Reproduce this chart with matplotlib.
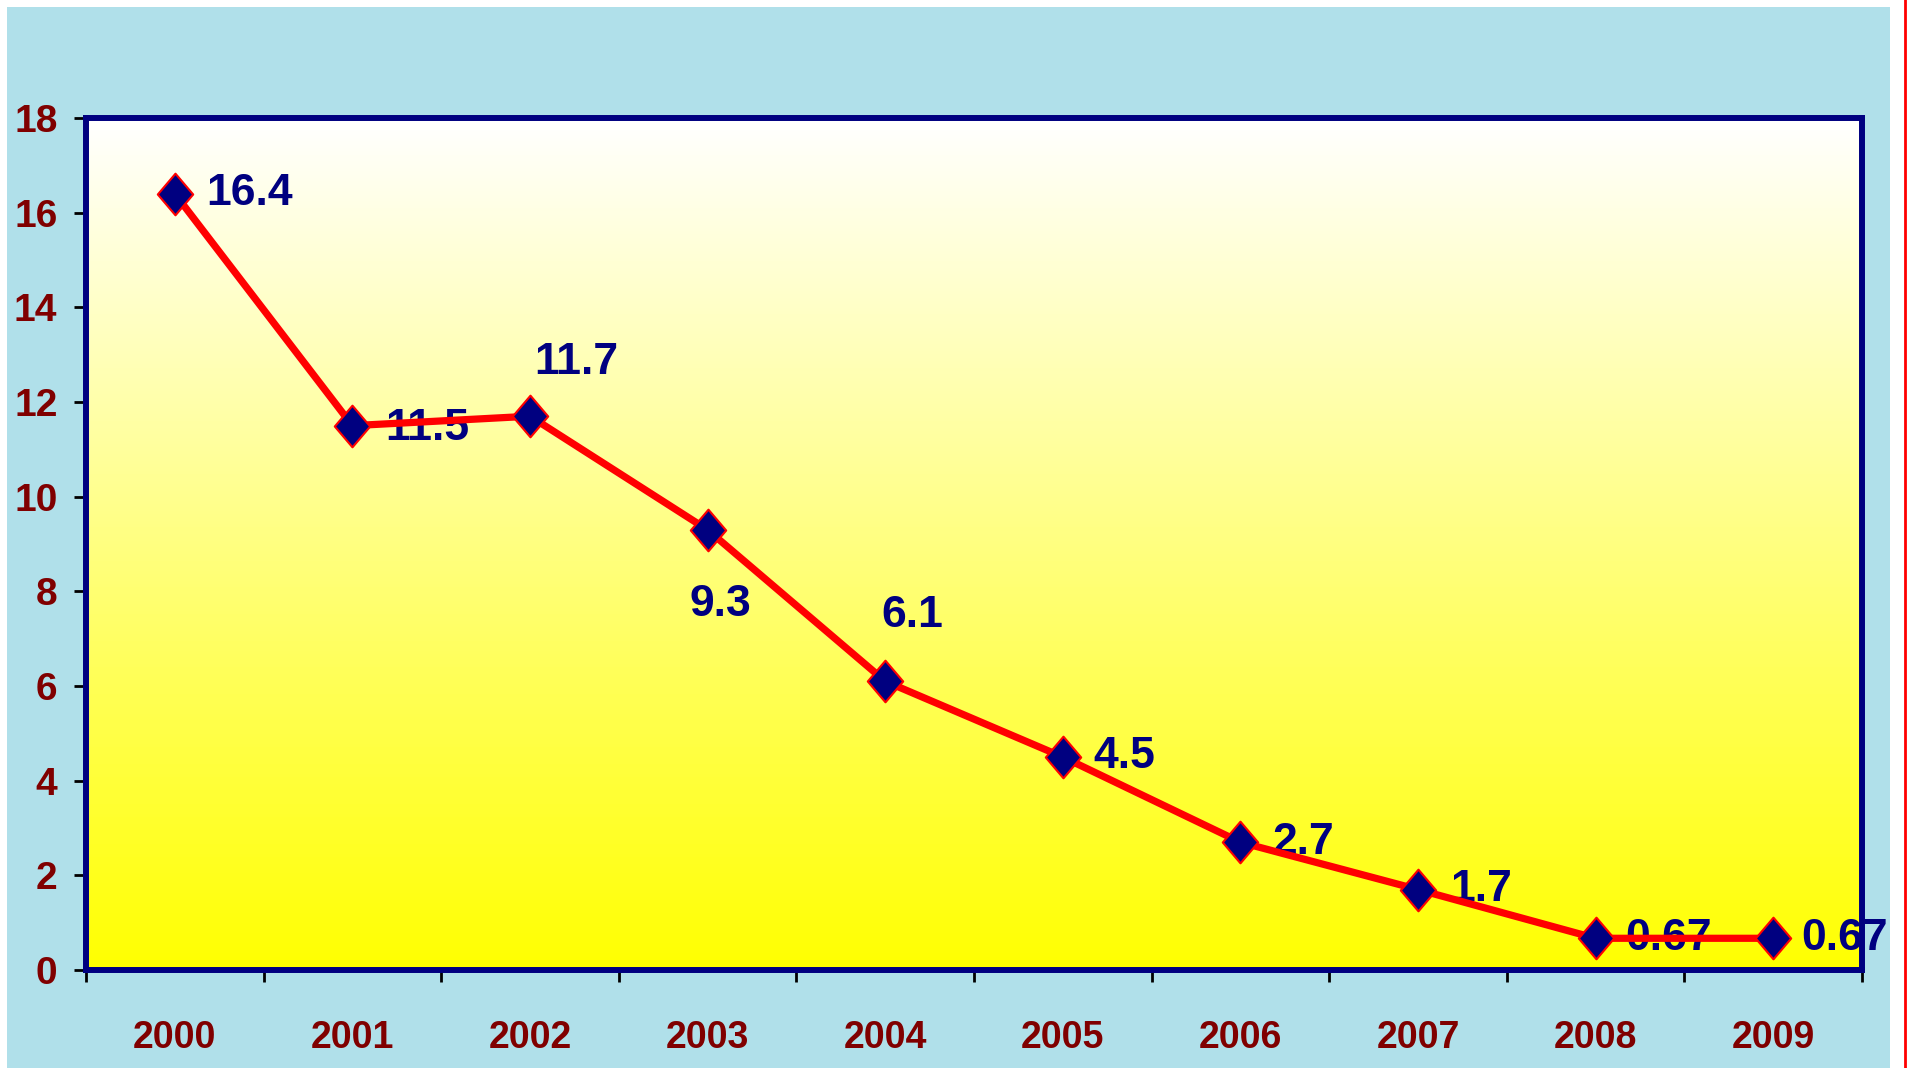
import numpy as np
import matplotlib.pyplot as plt
from matplotlib.patches import Rectangle
from matplotlib.lines import Line2D
from matplotlib.path import Path

plt.rcParams['font.family'] = ['Liberation Sans Narrow', 'Liberation Sans', 'DejaVu Sans']
plt.rcParams['font.weight'] = 'bold'

# 数据
years = ['2000', '2001', '2002', '2003', '2004', '2005', '2006', '2007', '2008', '2009']
values = [16.4, 11.5, 11.7, 9.3, 6.1, 4.5, 2.7, 1.7, 0.67, 0.67]
labels = ['16.4', '11.5', '11.7', '9.3', '6.1', '4.5', '2.7', '1.7', '0.67', '0.67']
y_ticks = [0, 2, 4, 6, 8, 10, 12, 14, 16, 18]

# 标签偏移 (points)
offsets = [(23, 0), (24, -2), (3, 39), (-13, -54), (-3, 47),
           (22, 0), (23, 0), (23, 0), (21, 0), (20, 0)]

fig = plt.figure(figsize=(19.11, 10.68), dpi=100)
fig.patch.set_facecolor('white')
fig.patches.append(Rectangle((7 / 1911, 0), 1883 / 1911, 1061 / 1068,
                             transform=fig.transFigure, facecolor='#b0e0ea',
                             edgecolor='none', zorder=-10))
fig.add_artist(Line2D([1905 / 1911, 1905 / 1911], [0, 1], color='red', lw=2))

ax = fig.add_axes([86 / 1911, 1 - 970 / 1068, 1776 / 1911, 852 / 1068])
ax.set_facecolor('none')

# 背景渐变 白->黄
grad = np.linspace(0, 1, 256).reshape(-1, 1)
rgb = np.ones((256, 1, 3))
rgb[:, 0, 2] = grad[:, 0]
ax.imshow(rgb, extent=[0, 1, 0, 1], transform=ax.transAxes, aspect='auto',
          origin='lower', zorder=0)

x = np.arange(len(years))
diamond = Path([(0, 1), (0.85, 0), (0, -1), (-0.85, 0), (0, 1)],
               [Path.MOVETO, Path.LINETO, Path.LINETO, Path.LINETO, Path.CLOSEPOLY])
ax.plot(x, values, color='red', lw=5.2, zorder=3, clip_on=False)
ax.plot(x, values, linestyle='none', marker=diamond, markersize=30,
        markerfacecolor='#000080', markeredgecolor='red', markeredgewidth=1.5,
        zorder=4, clip_on=False)

for i in range(len(values)):
    dx, dy = offsets[i]
    ax.annotate(labels[i], (x[i], values[i]), xytext=(dx, dy),
                textcoords='offset points', ha='left', va='center',
                fontsize=32, color='#000080', fontweight='bold', zorder=2)

ax.set_xlim(-0.5, len(years) - 0.5)
ax.set_ylim(0, 18)
ax.set_yticks(y_ticks)
ax.set_yticklabels([str(t) for t in y_ticks])
ax.set_xticks(x)
ax.set_xticklabels(years)
ax.set_xticks(np.arange(-0.5, len(years), 1), minor=True)

ax.tick_params(axis='x', which='major', length=0, pad=36, labelsize=27,
               labelcolor='#800000')
ax.tick_params(axis='x', which='minor', length=8.6, width=2, color='black',
               direction='out')
ax.tick_params(axis='y', length=8.6, width=2, color='black', pad=12,
               labelsize=28, labelcolor='#800000')

for s in ax.spines.values():
    s.set_color('#000080')
    s.set_linewidth(4.3)
    s.set_zorder(5)

plt.savefig('out.png', dpi=100)
